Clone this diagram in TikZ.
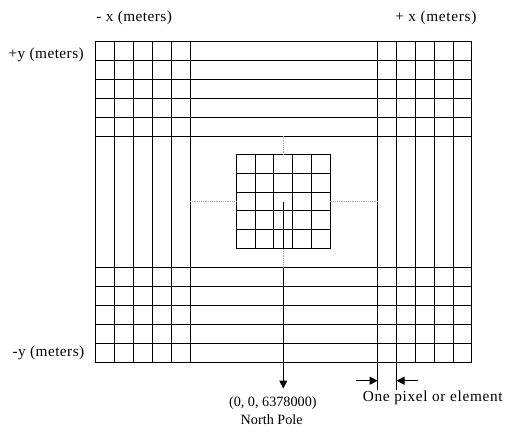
\documentclass[tikz,border=0pt]{standalone}
\usepackage{fontspec}
\setmainfont{Liberation Serif}
\usetikzlibrary{arrows.meta}
\tikzset{
  gridline/.style={line width=1pt, black},
  guide/.style={line width=0.9pt, gray!70, dash pattern=on 1.2pt off 1pt},
  lbl/.style={inner sep=0pt, font=\fontsize{15.3}{17}\selectfont\addfontfeature{LetterSpace=3}},
  widelbl/.style={inner sep=0pt, font=\fontsize{15.3}{17}\selectfont\addfontfeature{LetterSpace=4.5}},
  smalllbl/.style={inner sep=0pt, font=\fontsize{14.2}{16}\selectfont},
  pointer/.style={line width=1pt, -{Triangle[length=8pt,width=8pt]}}
}
\begin{document}
\begin{tikzpicture}[x=1pt,y=-1pt]
\useasboundingbox (0,0) rectangle (505,432);
% outer grid: left and right column blocks (full height)
\foreach \x in {95,114,133,152,171,190,377.7,396.5,415.3,434,453,471.7}
  \draw[gridline] (\x,41) -- (\x,362.3);
% top and bottom row blocks (full width)
\foreach \y in {41,60,79,98,117,136,267.7,286.7,305.5,324.3,343.3,362.3}
  \draw[gridline] (95,\y) -- (471.7,\y);
% central grid
\foreach \x in {236.3,255.1,273.9,292.7,311.5,330.3}
  \draw[gridline] (\x,154.3) -- (\x,248.7);
\foreach \y in {154.3,173.2,192.1,210.9,229.8,248.7}
  \draw[gridline] (236.3,\y) -- (330.3,\y);
% guide lines
\coordinate (ctr) at (283.3,201.5);
\draw[guide] (283.3,136) -- (283.3,154.3);
\draw[guide] (190,201.5) -- (236.3,201.5);
\draw[guide] (330.3,201.5) -- (377.7,201.5);
\draw[guide] (283.3,248.7) -- (283.3,267.7);
% labels
\node[lbl] (mx) at (134.2,18) {- x (meters)};
\node[widelbl] (px) at (435.8,18) {+ x (meters)};
\node[lbl, anchor=east] (py) at (84,55) {+y (meters)};
\node[lbl, anchor=east] (my) at (84.5,353) {-y (meters)};
\node[smalllbl] (np1) at (272.8,403.5) {(0, 0, 6378000)};
\node[smalllbl] (np2) at (271.7,420) {North Pole};
\node[widelbl, anchor=west] (pix) at (362.7,398) {One pixel or element};
% pole pointer
\coordinate (gbot) at (283.3,248.7);
\coordinate (rtop) at (283.3,267.7);
\coordinate (tip) at (283.3,388.5);
\draw[gridline] (ctr) -- (gbot);
\draw[pointer] (rtop) -- (tip);
% pixel width markers
\coordinate (t1) at (377.7,389.5);
\coordinate (t2) at (396.5,389.5);
\draw[gridline] (377.7,362.3) -- (t1);
\draw[gridline] (396.5,362.3) -- (t2);
\coordinate (a1) at (356,380.7);
\coordinate (a2) at (418.3,380.7);
\draw[pointer] (a1) -- (377.7,380.7);
\draw[pointer] (a2) -- (396.5,380.7);
\end{tikzpicture}
\end{document}
